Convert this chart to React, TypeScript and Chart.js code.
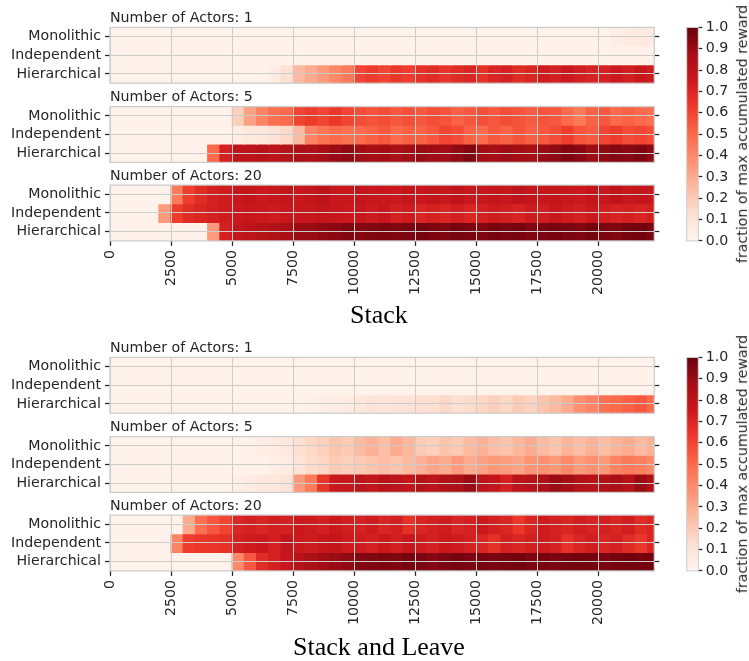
import React, { useEffect, useRef } from 'react';
import { Chart, registerables } from 'chart.js';

Chart.register(...registerables);

// ---------------- data ----------------
const ROWS = ['Monolithic', 'Independent', 'Hierarchical'];
const ACTORS = [1, 5, 20];
const GROUP_NAMES = ['Stack', 'Stack and Leave'];
const CB_LABEL = 'fraction of max accumulated reward';
const BIN_SIZE = 500;
const X_MAX = 22280;
const X_TICKS = [0, 2500, 5000, 7500, 10000, 12500, 15000, 17500, 20000];
const CB_TICKS = [0, 0.1, 0.2, 0.3, 0.4, 0.5, 0.6, 0.7, 0.8, 0.9, 1.0];
const REDS = ['#fff5f0', '#fee0d2', '#fcbba1', '#fc9272', '#fb6a4a', '#ef3b2c', '#cb181d', '#a50f15', '#67000d'];

// Stack, 1 actor
const S1_MONO = [
  0.02, 0.02, 0.02, 0.02, 0.02, 0.02, 0.02, 0.02, 0.02, 0.02,
  0.02, 0.02, 0.02, 0.02, 0.02, 0.02, 0.02, 0.02, 0.02, 0.02,
  0.02, 0.02, 0.02, 0.02, 0.02, 0.02, 0.02, 0.02, 0.02, 0.02,
  0.02, 0.02, 0.02, 0.02, 0.02, 0.02, 0.02, 0.02, 0.02, 0.02,
  0.02, 0.04, 0.06, 0.07, 0.06,
];
const S1_INDEP = [
  0.02, 0.02, 0.02, 0.02, 0.02, 0.02, 0.02, 0.02, 0.02, 0.02,
  0.02, 0.02, 0.02, 0.02, 0.02, 0.02, 0.02, 0.02, 0.02, 0.02,
  0.02, 0.02, 0.02, 0.02, 0.02, 0.02, 0.02, 0.02, 0.02, 0.02,
  0.02, 0.02, 0.02, 0.02, 0.02, 0.02, 0.02, 0.02, 0.02, 0.02,
  0.02, 0.02, 0.02, 0.02, 0.02,
];
const S1_HIER = [
  0.02, 0.02, 0.02, 0.02, 0.02, 0.02, 0.02, 0.02, 0.02, 0.02,
  0.02, 0.02, 0.02, 0.05, 0.12, 0.25, 0.3, 0.35, 0.4, 0.45,
  0.6, 0.63, 0.6, 0.64, 0.62, 0.66, 0.68, 0.65, 0.68, 0.7,
  0.66, 0.7, 0.72, 0.68, 0.7, 0.74, 0.72, 0.75, 0.73, 0.71,
  0.72, 0.75, 0.73, 0.76, 0.74,
];
// Stack, 5 actors
const S5_MONO = [
  0.02, 0.02, 0.02, 0.02, 0.02, 0.02, 0.02, 0.02, 0.02, 0.02,
  0.18, 0.33, 0.42, 0.48, 0.5, 0.6, 0.63, 0.6, 0.64, 0.6,
  0.58, 0.56, 0.58, 0.55, 0.57, 0.55, 0.58, 0.56, 0.52, 0.55,
  0.57, 0.55, 0.58, 0.56, 0.54, 0.56, 0.55, 0.5, 0.45, 0.52,
  0.55, 0.5, 0.52, 0.5, 0.48,
];
const S5_INDEP = [
  0.02, 0.02, 0.02, 0.02, 0.02, 0.02, 0.02, 0.02, 0.02, 0.02,
  0.05, 0.07, 0.08, 0.1, 0.15, 0.25, 0.42, 0.47, 0.5, 0.48,
  0.5, 0.52, 0.55, 0.5, 0.53, 0.52, 0.55, 0.6, 0.58, 0.52,
  0.5, 0.55, 0.52, 0.56, 0.53, 0.55, 0.58, 0.62, 0.56, 0.54,
  0.6, 0.62, 0.58, 0.6, 0.58,
];
const S5_HIER = [
  0.02, 0.02, 0.02, 0.02, 0.02, 0.02, 0.02, 0.02, 0.5, 0.72,
  0.8, 0.8, 0.82, 0.8, 0.82, 0.86, 0.85, 0.87, 0.9, 0.92,
  0.88, 0.87, 0.88, 0.86, 0.88, 0.9, 0.89, 0.88, 0.92, 0.95,
  0.88, 0.87, 0.89, 0.88, 0.87, 0.9, 0.92, 0.95, 0.93, 0.89,
  0.92, 0.94, 0.93, 0.95, 0.92,
];
// Stack, 20 actors
const S20_MONO = [
  0.02, 0.02, 0.02, 0.02, 0.02, 0.45, 0.62, 0.68, 0.72, 0.74,
  0.76, 0.78, 0.75, 0.77, 0.78, 0.76, 0.78, 0.8, 0.77, 0.76,
  0.78, 0.76, 0.77, 0.75, 0.78, 0.76, 0.78, 0.77, 0.79, 0.77,
  0.76, 0.78, 0.77, 0.8, 0.78, 0.76, 0.78, 0.77, 0.75, 0.78,
  0.77, 0.79, 0.76, 0.78, 0.77,
];
const S20_INDEP = [
  0.02, 0.02, 0.02, 0.02, 0.35, 0.62, 0.68, 0.7, 0.72, 0.74,
  0.75, 0.76, 0.75, 0.74, 0.76, 0.77, 0.76, 0.78, 0.76, 0.75,
  0.76, 0.74, 0.76, 0.72, 0.74, 0.7, 0.72, 0.7, 0.73, 0.7,
  0.72, 0.74, 0.73, 0.71, 0.74, 0.73, 0.76, 0.74, 0.72, 0.75,
  0.73, 0.71, 0.72, 0.7, 0.73,
];
const S20_HIER = [
  0.02, 0.02, 0.02, 0.02, 0.02, 0.02, 0.02, 0.02, 0.35, 0.72,
  0.78, 0.8, 0.82, 0.84, 0.86, 0.9, 0.9, 0.92, 0.93, 0.95,
  0.94, 0.95, 0.96, 0.95, 0.96, 0.97, 0.96, 0.95, 0.97, 0.96,
  0.95, 0.97, 0.96, 0.97, 0.95, 0.96, 0.97, 0.96, 0.95, 0.97,
  0.96, 0.95, 0.97, 0.98, 0.96,
];
// Stack and Leave, 1 actor
const SL1_MONO = [
  0.02, 0.02, 0.02, 0.02, 0.02, 0.02, 0.02, 0.02, 0.02, 0.02,
  0.02, 0.02, 0.02, 0.02, 0.02, 0.02, 0.02, 0.02, 0.02, 0.02,
  0.02, 0.02, 0.02, 0.02, 0.02, 0.02, 0.02, 0.02, 0.02, 0.02,
  0.02, 0.02, 0.02, 0.02, 0.02, 0.02, 0.02, 0.02, 0.02, 0.02,
  0.02, 0.02, 0.02, 0.02, 0.02,
];
const SL1_INDEP = [
  0.02, 0.02, 0.02, 0.02, 0.02, 0.02, 0.02, 0.02, 0.02, 0.02,
  0.02, 0.02, 0.02, 0.02, 0.02, 0.02, 0.02, 0.02, 0.02, 0.02,
  0.02, 0.02, 0.02, 0.02, 0.02, 0.02, 0.02, 0.02, 0.02, 0.02,
  0.02, 0.02, 0.02, 0.02, 0.02, 0.02, 0.02, 0.02, 0.02, 0.02,
  0.02, 0.02, 0.02, 0.02, 0.02,
];
const SL1_HIER = [
  0.02, 0.02, 0.02, 0.02, 0.02, 0.02, 0.02, 0.02, 0.02, 0.02,
  0.02, 0.02, 0.02, 0.02, 0.02, 0.02, 0.03, 0.04, 0.05, 0.06,
  0.08, 0.1, 0.09, 0.1, 0.11, 0.12, 0.13, 0.15, 0.12, 0.14,
  0.16, 0.18, 0.15, 0.2, 0.17, 0.22, 0.25, 0.3, 0.38, 0.42,
  0.48, 0.5, 0.52, 0.55, 0.5,
];
// Stack and Leave, 5 actors
const SL5_MONO = [
  0.02, 0.02, 0.02, 0.02, 0.02, 0.02, 0.02, 0.02, 0.02, 0.02,
  0.02, 0.03, 0.05, 0.06, 0.07, 0.12, 0.15, 0.18, 0.22, 0.2,
  0.25, 0.28, 0.24, 0.3, 0.26, 0.2, 0.18, 0.22, 0.2, 0.25,
  0.28, 0.24, 0.22, 0.26, 0.3, 0.25, 0.22, 0.27, 0.24, 0.28,
  0.24, 0.27, 0.3, 0.25, 0.28,
];
const SL5_INDEP = [
  0.02, 0.02, 0.02, 0.02, 0.02, 0.02, 0.02, 0.02, 0.02, 0.02,
  0.02, 0.02, 0.02, 0.04, 0.06, 0.1, 0.14, 0.16, 0.2, 0.18,
  0.2, 0.22, 0.24, 0.22, 0.25, 0.28, 0.32, 0.3, 0.35, 0.3,
  0.33, 0.36, 0.34, 0.32, 0.37, 0.38, 0.36, 0.4, 0.35, 0.38,
  0.36, 0.42, 0.45, 0.43, 0.4,
];
const SL5_HIER = [
  0.02, 0.02, 0.02, 0.02, 0.02, 0.02, 0.02, 0.02, 0.02, 0.02,
  0.04, 0.06, 0.07, 0.08, 0.1, 0.35, 0.45, 0.65, 0.75, 0.77,
  0.8, 0.78, 0.82, 0.8, 0.78, 0.82, 0.8, 0.84, 0.85, 0.9,
  0.8, 0.78, 0.72, 0.8, 0.82, 0.85, 0.9, 0.88, 0.84, 0.82,
  0.84, 0.86, 0.82, 0.9, 0.85,
];
// Stack and Leave, 20 actors
const SL20_MONO = [
  0.02, 0.02, 0.02, 0.02, 0.02, 0.02, 0.3, 0.48, 0.55, 0.6,
  0.7, 0.72, 0.7, 0.73, 0.72, 0.75, 0.74, 0.72, 0.75, 0.73,
  0.72, 0.74, 0.7, 0.72, 0.66, 0.7, 0.72, 0.74, 0.7, 0.72,
  0.75, 0.72, 0.7, 0.64, 0.7, 0.74, 0.72, 0.7, 0.73, 0.71,
  0.72, 0.7, 0.73, 0.68, 0.7,
];
const SL20_INDEP = [
  0.02, 0.02, 0.02, 0.02, 0.02, 0.42, 0.62, 0.64, 0.65, 0.66,
  0.72, 0.74, 0.75, 0.72, 0.78, 0.75, 0.74, 0.76, 0.78, 0.74,
  0.74, 0.72, 0.75, 0.73, 0.76, 0.74, 0.72, 0.75, 0.74, 0.72,
  0.7, 0.66, 0.72, 0.7, 0.73, 0.74, 0.72, 0.66, 0.7, 0.73,
  0.7, 0.72, 0.68, 0.64, 0.7,
];
const SL20_HIER = [
  0.02, 0.02, 0.02, 0.02, 0.02, 0.02, 0.02, 0.02, 0.02, 0.02,
  0.4, 0.55, 0.68, 0.72, 0.76, 0.82, 0.86, 0.88, 0.9, 0.92,
  0.94, 0.95, 0.96, 0.95, 0.97, 0.96, 0.94, 0.96, 0.97, 0.96,
  0.97, 0.96, 0.97, 0.98, 0.96, 0.97, 0.96, 0.97, 0.98, 0.97,
  0.96, 0.97, 0.98, 0.97, 0.98,
];

const STACK = [
  [S1_MONO, S1_INDEP, S1_HIER],
  [S5_MONO, S5_INDEP, S5_HIER],
  [S20_MONO, S20_INDEP, S20_HIER],
];
const STACK_LEAVE = [
  [SL1_MONO, SL1_INDEP, SL1_HIER],
  [SL5_MONO, SL5_INDEP, SL5_HIER],
  [SL20_MONO, SL20_INDEP, SL20_HIER],
];
const GROUP_DATA = [STACK, STACK_LEAVE];

// ---------------- layout / style ----------------
const FIG_W = 749;
const FIG_H = 661;
const TXT = '#262626';
const GRID = '#cccccc';
const FONT = 'DejaVu Sans';
const FS = 14.2;
const GROUP_TOPS = [27.4, 357.4];
const PANEL_OFFSETS = [0, 79.2, 157.7];
const PANEL_H = 55.8;
const AREA_RIGHT = 654.3;
const Y_AXIS_W = 110;
const PANEL_CANVAS_W = 670;
const RIGHT_AXIS_W = 8;
const X_AXIS_H = 60;
const TITLE_LH = 1.2;
const TITLE_PAD_B = 0.5;
const GROUP_TITLE_BASELINES = [324, 655.7];
const GROUP_TITLE_CX = 379;
const CB_CANVAS_LEFT = 672;
const CB_CANVAS_W = 77;
const CB_X0 = 686.7;
const CB_X1 = 698.3;
const CB_AXIS_W = 40;
const CB_LABEL_X = 741.8;

Chart.defaults.font.family = FONT;
Chart.defaults.color = TXT;

const REDS_RGB = REDS.map((h) => {
  const n = parseInt(h.slice(1), 16);
  return [(n >> 16) & 255, (n >> 8) & 255, n & 255];
});
function reds(v: number): string {
  const t = Math.max(0, Math.min(1, v)) * (REDS.length - 1);
  const i = Math.min(REDS.length - 2, Math.floor(t));
  const f = t - i;
  const a = REDS_RGB[i];
  const b = REDS_RGB[i + 1];
  const c = a.map((x, j) => Math.round(x + (b[j] - x) * f));
  return `rgb(${c[0]},${c[1]},${c[2]})`;
}

const spinePlugin = {
  id: 'spines',
  afterDraw(chart: any, _args: any, opts: any) {
    const { ctx, chartArea } = chart;
    if (!chartArea) return;
    ctx.save();
    ctx.strokeStyle = opts.color || GRID;
    ctx.lineWidth = opts.width || 1;
    ctx.strokeRect(chartArea.left, chartArea.top, chartArea.right - chartArea.left, chartArea.bottom - chartArea.top);
    ctx.restore();
  },
};

function panelGeom(top: number, isBottom: boolean) {
  const titleH = FS * TITLE_LH + TITLE_PAD_B;
  const canvasTop = Math.floor(top - titleH - 3);
  const bottom = top + PANEL_H;
  const h = Math.ceil(bottom - canvasTop + (isBottom ? X_AXIS_H + 2 : 4));
  const padTop = top - titleH - canvasTop;
  const padBottom = h - (bottom - canvasTop) - (isBottom ? X_AXIS_H : 0);
  return { canvasTop, h, padTop, padBottom };
}

function cbGeom(g: number) {
  const top = GROUP_TOPS[g];
  const bottom = top + PANEL_OFFSETS[2] + PANEL_H;
  const canvasTop = Math.floor(top - 9);
  const h = Math.ceil(bottom - canvasTop + 9);
  return { top, bottom, canvasTop, h, padTop: top - canvasTop, padBottom: h - (bottom - canvasTop) };
}

function panelConfig(vals: number[][], title: string, isBottom: boolean, geo: any): any {
  const font = { family: FONT, size: FS };
  return {
    type: 'bar',
    data: {
      labels: ROWS,
      datasets: vals.map((row, r) => ({
        label: ROWS[r],
        data: row.map((_v, k) => ({ x: [k * BIN_SIZE, Math.min((k + 1) * BIN_SIZE, X_MAX)], y: ROWS[r] })),
        backgroundColor: row.map((v) => reds(v)),
        borderWidth: 0,
        inflateAmount: 0.6,
        grouped: false,
        categoryPercentage: 1,
        barPercentage: 1,
      })),
    },
    options: {
      indexAxis: 'y',
      responsive: false,
      animation: false,
      devicePixelRatio: 1,
      events: [],
      layout: {
        padding: { left: 0, right: PANEL_CANVAS_W - AREA_RIGHT - RIGHT_AXIS_W, top: geo.padTop, bottom: geo.padBottom },
      },
      plugins: {
        legend: { display: false },
        tooltip: { enabled: false },
        title: {
          display: true,
          text: title,
          align: 'start',
          fullSize: false,
          color: TXT,
          font: { family: FONT, size: FS, weight: 'normal', lineHeight: TITLE_LH },
          padding: { top: 0, bottom: TITLE_PAD_B },
        },
        spines: { color: GRID, width: 1.25 },
      },
      scales: {
        x: {
          type: 'linear',
          position: 'bottom',
          min: 0,
          max: X_MAX,
          afterBuildTicks: (s: any) => { s.ticks = X_TICKS.map((v) => ({ value: v })); },
          afterFit: (s: any) => { s.height = isBottom ? X_AXIS_H : 0; s.paddingLeft = 0; s.paddingRight = 0; },
          grid: { z: 1, color: GRID, lineWidth: 1, drawTicks: isBottom, tickLength: 5, tickColor: TXT, tickWidth: 1.25 },
          border: { display: false },
          ticks: {
            display: isBottom,
            autoSkip: false,
            minRotation: 90,
            maxRotation: 90,
            padding: 4,
            color: TXT,
            font,
            callback: (v: any) => String(v),
          },
        },
        y: {
          type: 'category',
          position: 'left',
          offset: true,
          afterFit: (s: any) => { s.width = Y_AXIS_W; s.paddingTop = 0; s.paddingBottom = 0; },
          grid: { z: 1, offset: false, color: GRID, lineWidth: 1, tickLength: 5, tickColor: TXT, tickWidth: 1.25 },
          border: { display: false },
          ticks: { autoSkip: false, padding: 4, color: TXT, font },
        },
        y2: {
          type: 'category',
          position: 'right',
          offset: true,
          afterFit: (s: any) => { s.width = RIGHT_AXIS_W; s.paddingTop = 0; s.paddingBottom = 0; },
          grid: { z: 1, offset: false, drawOnChartArea: false, tickLength: 5, tickColor: TXT, tickWidth: 1.25 },
          border: { display: false },
          ticks: { autoSkip: false, callback: () => '', padding: 0, font },
        },
      },
    },
    plugins: [spinePlugin],
  };
}

function colorbarConfig(geo: any): any {
  return {
    type: 'bar',
    data: {
      labels: [''],
      datasets: [
        {
          data: [[CB_TICKS[0], CB_TICKS[CB_TICKS.length - 1]]],
          backgroundColor: (ctx: any) => {
            const ch = ctx.chart;
            const a = ch.chartArea;
            if (!a) return REDS[4];
            const g = ch.ctx.createLinearGradient(0, a.bottom, 0, a.top);
            REDS.forEach((c, i) => g.addColorStop(i / (REDS.length - 1), c));
            return g;
          },
          borderWidth: 0,
          inflateAmount: 0,
          categoryPercentage: 1,
          barPercentage: 1,
        },
      ],
    },
    options: {
      responsive: false,
      animation: false,
      devicePixelRatio: 1,
      events: [],
      layout: {
        padding: {
          left: CB_X0 - CB_CANVAS_LEFT,
          right: CB_CANVAS_W - (CB_X1 - CB_CANVAS_LEFT) - CB_AXIS_W,
          top: geo.padTop,
          bottom: geo.padBottom,
        },
      },
      plugins: {
        legend: { display: false },
        tooltip: { enabled: false },
        spines: { color: GRID, width: 1 },
      },
      scales: {
        x: { display: false },
        y: {
          type: 'linear',
          position: 'right',
          min: 0,
          max: 1,
          afterBuildTicks: (s: any) => { s.ticks = CB_TICKS.map((v) => ({ value: v })); },
          afterFit: (s: any) => { s.width = CB_AXIS_W; s.paddingTop = 0; s.paddingBottom = 0; },
          grid: { drawOnChartArea: false, tickLength: 4, tickColor: TXT, tickWidth: 1.25 },
          border: { display: false },
          ticks: { autoSkip: false, padding: 3.5, color: TXT, font: { family: FONT, size: FS }, callback: (v: any) => Number(v).toFixed(1) },
        },
      },
    },
    plugins: [spinePlugin],
  };
}

export default function App() {
  const panelRefs = useRef<(HTMLCanvasElement | null)[]>([]);
  const cbRefs = useRef<(HTMLCanvasElement | null)[]>([]);

  const panels: { g: number; p: number; top: number; isBottom: boolean }[] = [];
  GROUP_TOPS.forEach((gt, g) => {
    PANEL_OFFSETS.forEach((off, p) => {
      panels.push({ g, p, top: gt + off, isBottom: p === PANEL_OFFSETS.length - 1 });
    });
  });

  useEffect(() => {
    const charts: Chart[] = [];
    panels.forEach((pn, i) => {
      const c = panelRefs.current[i];
      if (!c) return;
      const geo = panelGeom(pn.top, pn.isBottom);
      charts.push(new Chart(c, panelConfig(GROUP_DATA[pn.g][pn.p], `Number of Actors: ${ACTORS[pn.p]}`, pn.isBottom, geo)));
    });
    GROUP_TOPS.forEach((_t, g) => {
      const c = cbRefs.current[g];
      if (!c) return;
      charts.push(new Chart(c, colorbarConfig(cbGeom(g))));
    });
    return () => charts.forEach((ch) => ch.destroy());
  }, []);

  return (
    <div style={{ position: 'absolute', left: 0, top: 0, width: FIG_W, height: FIG_H, overflow: 'hidden', background: '#fff' }}>
      {panels.map((pn, i) => {
        const geo = panelGeom(pn.top, pn.isBottom);
        return (
          <canvas
            key={`p${i}`}
            ref={(el) => { panelRefs.current[i] = el; }}
            width={PANEL_CANVAS_W}
            height={geo.h}
            style={{ position: 'absolute', left: 0, top: geo.canvasTop, width: PANEL_CANVAS_W, height: geo.h }}
          />
        );
      })}
      {GROUP_TOPS.map((_t, g) => {
        const geo = cbGeom(g);
        return (
          <React.Fragment key={`cb${g}`}>
            <canvas
              ref={(el) => { cbRefs.current[g] = el; }}
              width={CB_CANVAS_W}
              height={geo.h}
              style={{ position: 'absolute', left: CB_CANVAS_LEFT, top: geo.canvasTop, width: CB_CANVAS_W, height: geo.h }}
            />
            <div
              style={{
                position: 'absolute',
                left: CB_LABEL_X,
                top: (geo.top + geo.bottom) / 2,
                transform: 'translate(-50%, -50%) rotate(-90deg)',
                whiteSpace: 'nowrap',
                font: `${FS}px "${FONT}"`,
                lineHeight: `${FS}px`,
                color: TXT,
              }}
            >
              {CB_LABEL}
            </div>
          </React.Fragment>
        );
      })}
      {GROUP_NAMES.map((name, g) => (
        <div
          key={`t${g}`}
          style={{
            position: 'absolute',
            left: 0,
            width: GROUP_TITLE_CX * 2,
            top: GROUP_TITLE_BASELINES[g] - 21.77,
            textAlign: 'center',
            whiteSpace: 'nowrap',
            font: '26px "Liberation Serif"',
            lineHeight: '26px',
            color: '#000',
          }}
        >
          {name}
        </div>
      ))}
    </div>
  );
}
